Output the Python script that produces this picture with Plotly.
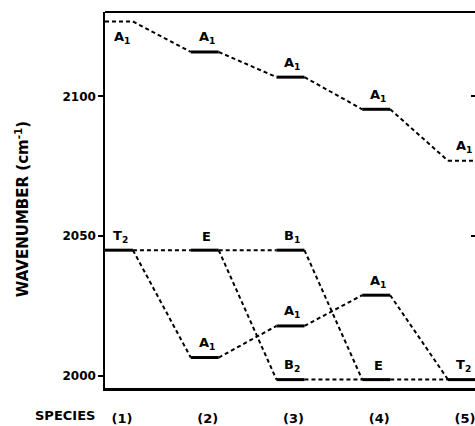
import plotly.graph_objects as go

# ---- data ----
species = [1, 2, 3, 4, 5]
species_labels = ["(1)", "(2)", "(3)", "(4)", "(5)"]
yticks = [2000, 2050, 2100]

# energy levels (species, wavenumber, symmetry label, drawn as solid bar?)
level_species = [1, 1, 2, 2, 2, 3, 3, 3, 3, 4, 4, 4, 5, 5]
level_wn = [2126.8, 2045.0,
            2115.9, 2045.0, 2006.6,
            2106.9, 2045.0, 2017.9, 1998.7,
            2095.4, 2028.9, 1998.7,
            2077.0, 1998.7]
level_sym = ["A<sub>1</sub>", "T<sub>2</sub>",
             "A<sub>1</sub>", "E", "A<sub>1</sub>",
             "A<sub>1</sub>", "B<sub>1</sub>", "A<sub>1</sub>", "B<sub>2</sub>",
             "A<sub>1</sub>", "A<sub>1</sub>", "E",
             "A<sub>1</sub>", "T<sub>2</sub>"]
level_solid = [False, True, True, True, True, True, True, True, True,
               True, True, True, False, True]

# correlation lines between levels (indices into the level lists)
conn_from = [0, 1, 1, 2, 3, 3, 4, 5, 6, 7, 8, 9, 10, 11]
conn_to = [2, 3, 4, 5, 6, 8, 7, 9, 11, 10, 11, 12, 13, 13]

# ---- styling ----
HW = 0.163          # half width of a level bar (x units)
DASH = "4px,3px"
FONT = "DejaVu Sans"
YRANGE = [1995.7, 2130.2]

fig = go.Figure()

# connectors
cx, cy = [], []
for a, b in zip(conn_from, conn_to):
    cx += [level_species[a] + HW, level_species[b] - HW, None]
    cy += [level_wn[a], level_wn[b], None]
fig.add_trace(go.Scatter(x=cx, y=cy, mode="lines",
                         line=dict(color="black", width=2, dash=DASH),
                         hoverinfo="skip", showlegend=False))

# level bars
sx, sy, dx, dy = [], [], [], []
for s, w, solid in zip(level_species, level_wn, level_solid):
    if solid:
        sx += [s - HW, s + HW, None]; sy += [w, w, None]
    else:
        dx += [s - HW, s + HW, None]; dy += [w, w, None]
fig.add_trace(go.Scatter(x=sx, y=sy, mode="lines",
                         line=dict(color="black", width=3),
                         hoverinfo="skip", showlegend=False))
# dashed (unobserved) levels, drawn against the identical right-hand axis
fig.add_trace(go.Scatter(x=dx, y=dy, mode="lines", yaxis="y2",
                         line=dict(color="black", width=2, dash=DASH),
                         hoverinfo="skip", showlegend=False))

# symmetry labels
for i, (s, w, t) in enumerate(zip(level_species, level_wn, level_sym)):
    if i == 0:
        ys, xs = -16, 3
    else:
        ys, xs = 14, 2
    fig.add_annotation(x=s, y=w, text=t, showarrow=False,
                       xshift=xs, yshift=ys, yanchor="middle",
                       font=dict(family=FONT, size=13, color="black", weight="bold"))

# axis titles
fig.add_annotation(xref="paper", yref="paper", x=-0.224, y=0.476,
                   text="WAVENUMBER (cm<sup>-1</sup>)", textangle=-90,
                   showarrow=False, xanchor="center", yanchor="middle",
                   font=dict(family=FONT, size=15, color="black", weight="bold"))
fig.add_annotation(xref="paper", yref="paper", x=-0.108, y=-0.074,
                   text="SPECIES", showarrow=False, yanchor="middle",
                   xanchor="center",
                   font=dict(family=FONT, size=13, color="black", weight="bold"))

# top border
fig.add_shape(type="line", xref="paper", yref="paper", x0=0, x1=1, y0=1, y1=1,
              line=dict(color="black", width=2))

fig.update_layout(
    width=475, height=426,
    margin=dict(l=105, r=0, t=12, b=36),
    paper_bgcolor="white", plot_bgcolor="white",
    xaxis=dict(range=[0.837, 5.152], tickvals=species, ticktext=species_labels,
               showgrid=False, zeroline=False, showline=True, linecolor="black",
               linewidth=3, ticks="", ticklabelstandoff=16, ticklabelshift=3,
               ticklabeloverflow="allow",
               tickfont=dict(family=FONT, size=13, color="black", weight="bold")),
    yaxis=dict(range=YRANGE, tickvals=yticks,
               showgrid=False, zeroline=False, showline=True, linecolor="black",
               linewidth=1.5, ticks="outside", ticklen=5, tickwidth=1.5,
               tickcolor="black",
               tickfont=dict(family=FONT, size=12, color="black", weight="bold")),
    yaxis2=dict(range=YRANGE, overlaying="y", side="right",
                tickvals=[2050, 2100], ticks="inside", ticklen=4, tickwidth=1.5,
                tickcolor="black", showticklabels=False, showgrid=False,
                zeroline=False, showline=False),
)

fig.write_html(
    "out.html",
    config={"displayModeBar": False},
    post_script="document.body.style.margin='0';"
                "document.documentElement.style.overflow='hidden';"
                "document.body.style.overflow='hidden';",
)
